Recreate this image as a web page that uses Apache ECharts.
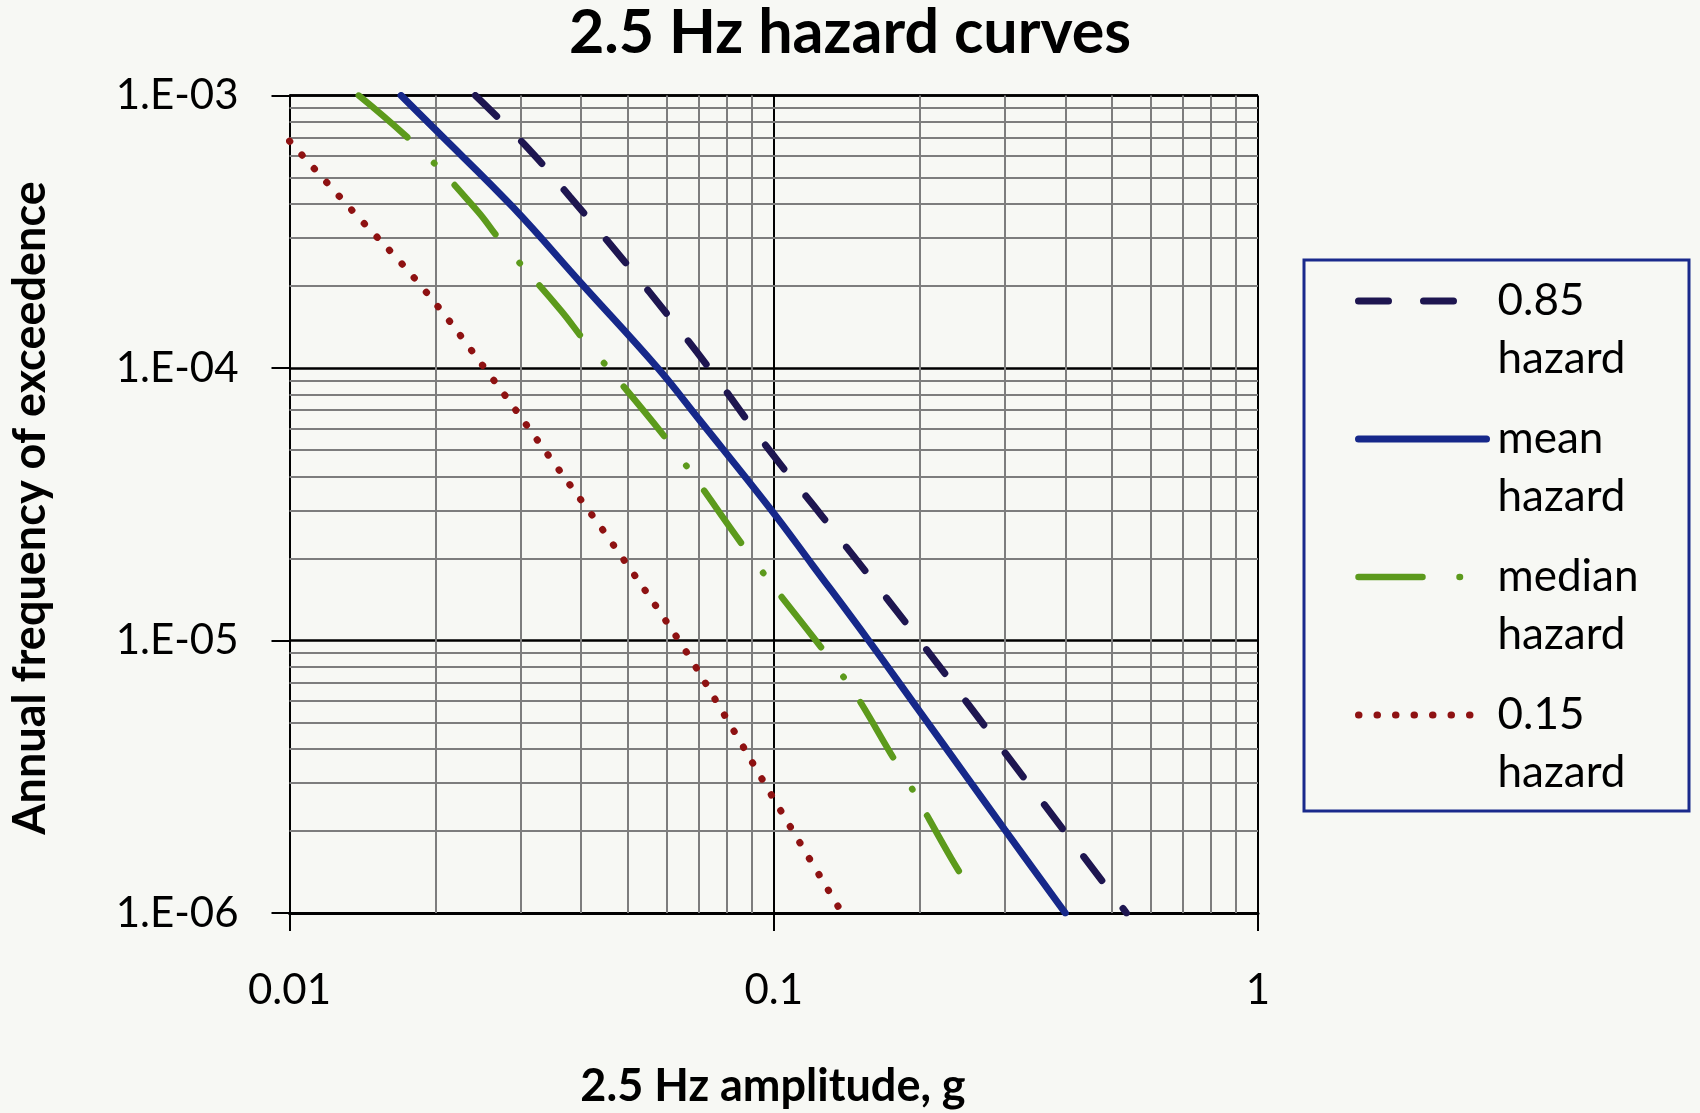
<!DOCTYPE html>
<html>
<head>
<meta charset="utf-8">
<title>2.5 Hz hazard curves</title>
<script src="https://cdn.jsdelivr.net/npm/echarts@6/dist/echarts.min.js"></script>
<style>
  html, body { margin: 0; padding: 0; background: #f7f8f4; }
  #chart { width: 1700px; height: 1113px; }
</style>
</head>
<body>
<div id="chart"></div>
<script>
// values (amplitude in g, annual frequency of exceedence)
const p85X = [0.0242, 0.0311, 0.0379, 0.0489, 0.0625, 0.0735, 0.0983, 0.126, 0.2, 0.29, 0.375, 0.535];
const p85Y = [1e-3, 6.4e-4, 4.26e-4, 2.49e-4, 1.45e-4, 1e-4, 4.95e-5, 2.85e-5, 1e-5, 4.2e-6, 2.3e-6, 1e-6];

const meanX = [0.017, 0.02, 0.0289, 0.04, 0.0576, 0.07, 0.0986, 0.12, 0.157, 0.2, 0.25, 0.3, 0.40];
const meanY = [1e-3, 7.5e-4, 3.9e-4, 2.05e-4, 1e-4, 6.5e-5, 3.03e-5, 1.9e-5, 1e-5, 5.5e-6, 3.17e-6, 2.02e-6, 1e-6];

const medianX = [0.0139, 0.0187, 0.0245, 0.0272, 0.0364, 0.0405, 0.0455, 0.0605, 0.0671, 0.0923, 0.1216, 0.1352, 0.1488, 0.1744, 0.19, 0.2324, 0.2547];
const medianY = [1e-3, 6.3e-4, 3.75e-4, 2.95e-4, 1.62e-4, 1.27e-4, 1e-4, 5.4e-5, 4.2e-5, 1.9e-5, 1.01e-5, 7.9e-6, 6.2e-6, 3.85e-6, 3e-6, 1.59e-6, 1.22e-6];

const p15X = [0.01, 0.0133, 0.0187, 0.0259, 0.0347, 0.0406, 0.0458, 0.0637, 0.0795, 0.0994, 0.137];
const p15Y = [6.8e-4, 3.88e-4, 2.0e-4, 9.45e-5, 4.63e-5, 3.16e-5, 2.35e-5, 1e-5, 5.25e-6, 2.67e-6, 1.03e-6];

const seriesNames = ['0.85 hazard', 'mean hazard', 'median hazard', '0.15 hazard'];
const xTickLabels = ['0.01', '0.1', '1'];
const yTickLabels = ['1.E-06', '1.E-05', '1.E-04', '1.E-03'];

// minor grid lines of the log paper: 2..9 in each decade
const xDecades = [0.01, 0.1];
const yDecades = [1e-6, 1e-5, 1e-4];
const minorSteps = [2, 3, 4, 5, 6, 7, 8, 9];
const xRange = [0.01, 1];
const yRange = [1e-6, 1e-3];

const FONT = 'Lato, "Open Sans", sans-serif';

function zip(xs, ys) {
  return xs.map((x, i) => [x, ys[i]]);
}

const minorLines = [];
xDecades.forEach(d => minorSteps.forEach(m => {
  const v = +(d * m).toPrecision(3);
  minorLines.push([{ coord: [v, yRange[0]] }, { coord: [v, yRange[1]] }]);
}));
yDecades.forEach(d => minorSteps.forEach(m => {
  const v = +(d * m).toPrecision(3);
  minorLines.push([{ coord: [xRange[0], v] }, { coord: [xRange[1], v] }]);
}));

const chart = echarts.init(document.getElementById('chart'), null, { renderer: 'canvas' });

const option = {
  backgroundColor: '#f7f8f4',
  animation: false,
  title: {
    text: '2.5 Hz hazard curves',
    left: 'center',
    top: 3,
    padding: 0,
    textStyle: { fontFamily: FONT, fontWeight: 'bold', fontSize: 61, color: '#000' }
  },
  grid: {
    left: 289.5,
    top: 95.5,
    right: 442,
    bottom: 200,
    outerBoundsMode: 'none'
  },
  xAxis: {
    type: 'log',
    logBase: 10,
    min: xRange[0],
    max: xRange[1],
    axisLine: { show: true, lineStyle: { color: '#000', width: 3 } },
    axisTick: { show: true, length: 18, lineStyle: { color: '#000', width: 2 } },
    axisLabel: {
      margin: 56,
      fontFamily: FONT,
      fontSize: 42,
      lineHeight: 42,
      color: '#000',
      formatter: (v, i) => xTickLabels[i]
    },
    splitLine: { show: true, lineStyle: { color: '#000', width: 2 } },
    minorTick: { show: false },
    minorSplitLine: { show: false }
  },
  yAxis: {
    type: 'log',
    logBase: 10,
    min: yRange[0],
    max: yRange[1],
    axisLine: { show: true, lineStyle: { color: '#000', width: 2 } },
    axisTick: { show: true, length: 18, lineStyle: { color: '#000', width: 2 } },
    axisLabel: {
      margin: 51,
      fontFamily: FONT,
      fontSize: 42,
      color: '#000',
      formatter: (v, i) => yTickLabels[i]
    },
    splitLine: { show: true, lineStyle: { color: '#000', width: 2.5 } },
    minorTick: { show: false },
    minorSplitLine: { show: false }
  },
  legend: {
    orient: 'vertical',
    left: 1355,
    top: 214,
    padding: 0,
    itemGap: -36,
    itemWidth: 128,
    itemHeight: 20,
    data: seriesNames,
    formatter: name => '\n' + name.replace(' ', '\n'),
    textStyle: {
      fontFamily: FONT,
      fontSize: 44,
      lineHeight: 58,
      color: '#000',
      padding: [0, 0, 0, 6]
    },
    itemStyle: { opacity: 0 },
    lineStyle: { width: 'inherit' },
    selectedMode: false
  },
  graphic: [
    {
      type: 'rect',
      silent: true,
      shape: { x: 1304, y: 260, width: 385, height: 551 },
      style: { fill: 'none', stroke: '#1a2a8c', lineWidth: 3 }
    },
    {
      type: 'text',
      silent: true,
      x: 30,
      y: 508,
      rotation: Math.PI / 2,
      style: {
        text: 'Annual frequency of exceedence',
        font: 'bold 45px ' + FONT,
        fill: '#000',
        align: 'center',
        verticalAlign: 'middle'
      }
    },
    {
      type: 'text',
      silent: true,
      x: 773,
      y: 1086,
      style: {
        text: '2.5 Hz amplitude, g',
        font: 'bold 45px ' + FONT,
        fill: '#000',
        align: 'center',
        verticalAlign: 'middle'
      }
    }
  ],
  series: [
    {
      name: seriesNames[3],
      type: 'line',
      data: zip(p15X, p15Y),
      symbol: 'none',
      smooth: 0.4,
      z: 3,
      lineStyle: { color: '#8e1212', width: 7, type: [0.5, 18], cap: 'round' },
      markLine: {
        silent: true,
        z: 1,
        symbol: 'none',
        label: { show: false },
        animation: false,
        lineStyle: { color: '#7d7d7d', width: 2, type: 'solid' },
        emphasis: { disabled: true },
        data: minorLines
      }
    },
    {
      name: seriesNames[2],
      type: 'line',
      data: zip(medianX, medianY),
      symbol: 'none',
      smooth: 0.4,
      z: 3,
      lineStyle: { color: '#5c9a1c', width: 6.5, type: [64, 37, 0.5, 30], cap: 'round' }
    },
    {
      name: seriesNames[1],
      type: 'line',
      data: zip(meanX, meanY),
      symbol: 'none',
      smooth: 0.4,
      z: 4,
      lineStyle: { color: '#16288a', width: 7, type: 'solid', cap: 'round' }
    },
    {
      name: seriesNames[0],
      type: 'line',
      data: zip(p85X, p85Y),
      symbol: 'none',
      smooth: 0.4,
      z: 4,
      lineStyle: { color: '#1e1650', width: 7, type: [30, 35], cap: 'round' }
    }
  ]
};

chart.setOption(option);
</script>
</body>
</html>
